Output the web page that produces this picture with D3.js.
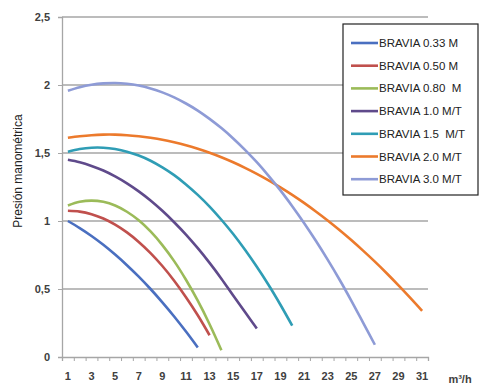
<!DOCTYPE html>
<html><head><meta charset="utf-8">
<script src="https://cdn.jsdelivr.net/npm/d3@7"></script>
<style>body{margin:0;background:#fff}svg{display:block}</style>
</head><body><svg id="c" width="484" height="385"></svg>
<script>
const seriesNames = ["BRAVIA 0.33 M","BRAVIA 0.50 M","BRAVIA 0.80  M","BRAVIA 1.0 M/T","BRAVIA 1.5  M/T","BRAVIA 2.0 M/T","BRAVIA 3.0 M/T"];
const seriesColors = ["#4a6fc0","#c0504d","#9bbb59","#5f4a8b","#2f9db5","#ec7a2c","#8e9bd6"];
const s033 = [1.00,0.948,0.890,0.825,0.753,0.675,0.591,0.500,0.402,0.298,0.187,0.07];
const s050 = [1.075,1.069,1.050,1.018,0.973,0.916,0.846,0.764,0.669,0.561,0.440,0.307,0.16];
const s080 = [1.114,1.141,1.150,1.141,1.114,1.068,1.005,0.923,0.823,0.705,0.568,0.414,0.241,0.05];
const s10 = [1.45,1.432,1.405,1.371,1.328,1.277,1.218,1.151,1.075,0.991,0.900,0.800,0.692,0.576,0.452,0.33,0.21];
const s15 = [1.510,1.529,1.539,1.539,1.529,1.510,1.481,1.443,1.394,1.337,1.269,1.192,1.106,1.009,0.904,0.788,0.663,0.529,0.384,0.23];
const s20 = [1.612,1.623,1.631,1.635,1.635,1.631,1.623,1.612,1.598,1.579,1.557,1.531,1.502,1.469,1.432,1.391,1.347,1.299,1.247,1.192,1.133,1.070,1.004,0.934,0.860,0.782,0.701,0.616,0.527,0.435,0.340];
const s30 = [1.958,1.984,2.002,2.012,2.015,2.009,1.996,1.975,1.946,1.909,1.864,1.812,1.751,1.683,1.607,1.523,1.432,1.332,1.225,1.109,0.986,0.855,0.716,0.570,0.415,0.253,0.09];
const seriesValues = [s033,s050,s080,s10,s15,s20,s30];
const categories = d3.range(1,32);
const xTickLabels = d3.range(1,32,2);
const yTicks = [0,0.5,1,1.5,2,2.5];
const yTickLabels = ["0","0,5","1","1,5","2","2,5"];
const yTitle = "Presión manométrica";
const xUnit = "m³/h";

const svg = d3.select("#c");
const L=62,R=428,T=17,B=357;
const x = d3.scaleLinear().domain([0.5,31.5]).range([L,R]);
const y = d3.scaleLinear().domain([0,2.5]).range([B,T]);
const font = "'Liberation Sans', Arial, sans-serif";

// gridlines
svg.append("g").selectAll("line").data(yTicks.filter(v=>v>0)).join("line")
  .attr("x1",L).attr("x2",R).attr("y1",d=>y(d)).attr("y2",d=>y(d))
  .attr("stroke","#a6a6a6").attr("stroke-width",1.3);

// y axis
const ya = svg.append("g").attr("transform",`translate(${L},0)`)
  .call(d3.axisLeft(y).tickValues(yTicks).tickSize(4).tickFormat((d,i)=>yTickLabels[i]).tickPadding(8));
ya.select(".domain").attr("stroke","#a6a6a6").attr("stroke-width",1.3);
ya.selectAll(".tick line").attr("stroke","#a6a6a6");
ya.selectAll("text").attr("font-family",font).attr("font-size",11).attr("font-weight","bold").attr("fill","#404040");

// x axis
const xa = svg.append("g").attr("transform",`translate(0,${B})`)
  .call(d3.axisBottom(x).tickValues(d3.range(0.5,32,1)).tickSize(4).tickFormat(""));
xa.select(".domain").attr("stroke","#a6a6a6").attr("stroke-width",1.3);
xa.selectAll(".tick line").attr("stroke","#a6a6a6");
svg.append("g").selectAll("text").data(xTickLabels).join("text")
  .attr("x",d=>x(d)).attr("y",B+23).attr("text-anchor","middle")
  .attr("font-family",font).attr("font-size",11).attr("font-weight","bold").attr("fill","#404040")
  .text(d=>d);
svg.append("text").attr("x",460).attr("y",B+26).attr("text-anchor","middle")
  .attr("font-family",font).attr("font-size",11).attr("font-weight","bold").attr("fill","#404040").text(xUnit);

// y title
svg.append("text").attr("transform","translate(22,171) rotate(-90)").attr("text-anchor","middle")
  .attr("font-family",font).attr("font-size",12).attr("fill","#222").text(yTitle);

// lines
const line = d3.line().x((d,i)=>x(categories[i])).y(d=>y(d)).curve(d3.curveCatmullRom);
svg.append("g").selectAll("path").data(seriesValues).join("path")
  .attr("d",d=>line(d)).attr("fill","none")
  .attr("stroke",(d,i)=>seriesColors[i]).attr("stroke-width",2.6).attr("stroke-linecap","butt");

// legend
const lg = svg.append("g");
lg.append("rect").attr("x",343).attr("y",24).attr("width",135).attr("height",171)
  .attr("fill","#fff").attr("stroke","#222").attr("stroke-width",1.2);
const rows = lg.selectAll("g").data(seriesNames).join("g")
  .attr("transform",(d,i)=>`translate(0,${43+i*22.7})`);
rows.append("line").attr("x1",351).attr("x2",378).attr("y1",0).attr("y2",0)
  .attr("stroke",(d,i)=>seriesColors[i]).attr("stroke-width",2.6);
rows.append("text").attr("x",379).attr("y",4).attr("font-family",font).attr("font-size",11.5)
  .attr("fill","#222").attr("xml:space","preserve").style("white-space","pre").text(d=>d);
</script></body></html>
